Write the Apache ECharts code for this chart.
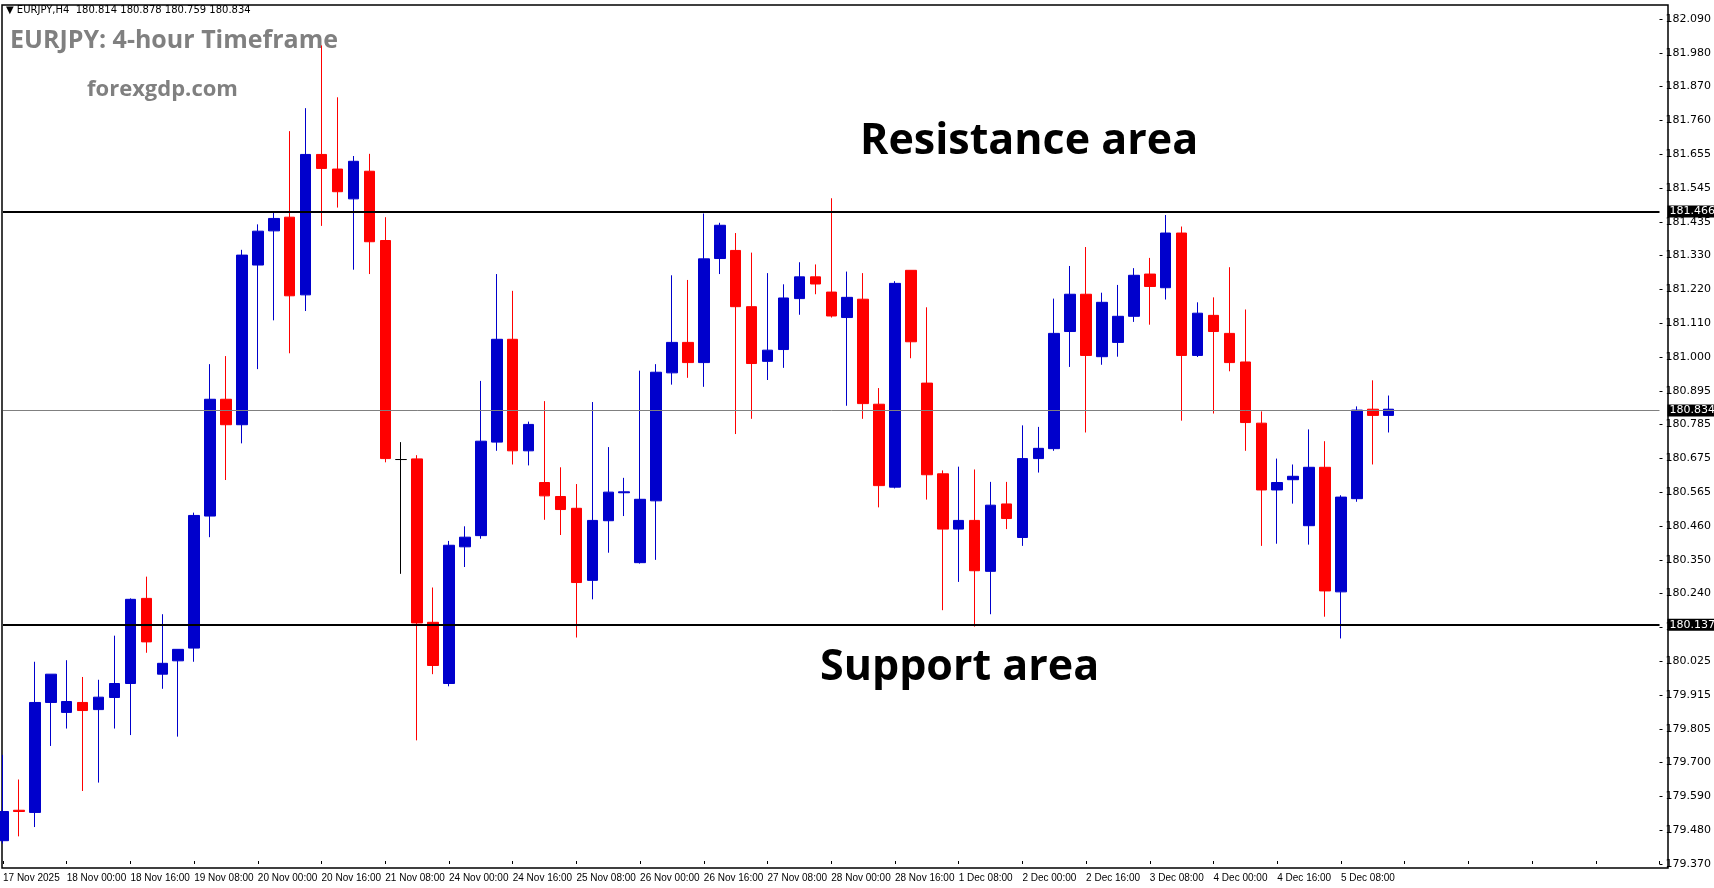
<!DOCTYPE html>
<html>
<head>
<meta charset="utf-8">
<script src="https://cdn.jsdelivr.net/npm/echarts@6/dist/echarts.min.js"></script>
<style>
  html, body { margin: 0; padding: 0; background: #fff; }
  #chart { width: 1714px; height: 888px; }
</style>
</head>
<body>
<div id="chart"></div>
<script>
// EURJPY H4 candles
const opens = [179.445,179.543,179.536,179.890,179.858,179.890,179.867,179.906,179.951,180.225,
  179.981,180.024,180.065,180.490,180.866,180.784,181.298,181.408,181.452,181.202,
  181.654,181.607,181.511,181.600,181.377,180.672,180.674,180.148,179.951,180.391,
  180.427,180.728,181.059,180.700,180.598,180.553,180.515,180.283,180.475,180.565,
  180.340,180.539,180.951,181.049,180.984,181.319,181.345,181.164,180.988,181.026,
  181.190,181.260,181.211,181.129,181.188,180.850,180.583,181.281,180.918,180.626,
  180.448,180.476,180.312,180.529,180.421,180.675,180.707,181.084,181.204,181.003,
  181.049,181.133,181.269,181.225,181.401,181.007,181.136,181.078,180.986,180.789,
  180.574,180.607,180.459,180.647,180.246,180.546,180.834,180.814]
const closes = [179.539,179.539,179.890,179.981,179.893,179.864,179.907,179.951,180.222,180.085,
  180.016,180.061,180.492,180.866,180.784,181.330,181.407,181.448,181.199,181.654,
  181.609,181.534,181.632,181.373,180.675,180.672,180.146,180.009,180.396,180.422,
  180.731,181.059,180.700,180.785,180.555,180.511,180.276,180.476,180.567,180.568,
  180.544,180.953,181.049,180.984,181.318,181.426,181.164,180.981,181.024,181.192,
  181.260,181.237,181.134,181.194,180.852,180.588,181.239,181.051,180.623,180.448,
  180.476,180.314,180.525,180.482,180.675,180.708,181.078,181.204,181.007,181.178,
  181.133,181.265,181.229,181.401,181.007,181.143,181.084,180.984,180.791,180.574,
  180.598,180.618,180.647,180.249,180.551,180.831,180.814,180.834]
const lows = [179.436,179.459,179.489,179.750,179.806,179.605,179.632,179.806,179.785,180.050,
  179.934,179.780,180.021,180.422,180.606,180.724,180.963,181.120,181.014,181.150,
  181.424,181.483,181.283,181.269,180.663,180.304,179.768,179.981,179.942,180.326,
  180.417,180.700,180.656,180.653,180.478,180.429,180.099,180.222,180.372,180.490,
  180.337,180.349,180.913,180.935,180.906,181.269,180.754,180.803,180.928,180.967,
  181.138,181.204,181.129,180.845,180.803,180.518,180.579,180.998,180.543,180.187,
  180.278,180.134,180.174,180.448,180.394,180.630,180.700,180.970,180.759,180.977,
  181.003,181.115,181.106,181.187,180.797,181.002,180.820,180.956,180.700,180.394,
  180.401,180.530,180.398,180.166,180.096,180.536,180.656,180.759]
const highs = [179.721,179.642,180.021,179.981,180.026,179.972,179.963,180.105,180.225,180.295,
  180.174,180.061,180.501,180.979,181.005,181.347,181.429,181.466,181.729,181.803,
  182.005,181.838,181.649,181.656,181.452,180.728,180.686,180.260,180.410,180.457,
  180.925,181.269,181.215,180.794,180.860,180.647,180.593,180.857,180.712,180.613,
  180.958,180.979,181.265,181.250,181.464,181.434,181.401,181.338,181.272,181.236,
  181.307,181.300,181.513,181.277,181.272,180.902,181.246,181.281,181.162,180.637,
  180.649,180.640,180.600,180.600,180.782,180.777,181.190,181.295,181.356,181.209,
  181.234,181.288,181.321,181.459,181.422,181.178,181.194,181.291,181.155,180.827,
  180.675,180.656,180.769,180.731,180.557,180.843,180.927,180.878]

// time labels shown every 4 bars
const timeLabels = ['17 Nov 2025','18 Nov 00:00','18 Nov 16:00','19 Nov 08:00','20 Nov 00:00',
  '20 Nov 16:00','21 Nov 08:00','24 Nov 00:00','24 Nov 16:00','25 Nov 08:00','26 Nov 00:00',
  '26 Nov 16:00','27 Nov 08:00','28 Nov 00:00','28 Nov 16:00','1 Dec 08:00','2 Dec 00:00',
  '2 Dec 16:00','3 Dec 08:00','4 Dec 00:00','4 Dec 16:00','5 Dec 08:00']

// price scale labels, top to bottom
const priceLabels = ['182.090','181.980','181.870','181.760','181.655','181.545','181.435',
  '181.330','181.220','181.110','181.000','180.895','180.785','180.675','180.565','180.460',
  '180.350','180.240','180.130','180.025','179.915','179.805','179.700','179.590','179.480','179.370']

const resistance = 181.466
const support = 180.137
const lastPrice = 180.834

const slotCount = 105
const yMin = 179.370
const yMax = 182.090
const yStep = (yMax - yMin) / (priceLabels.length - 1)

const categories = []
for (let i = 0; i < slotCount; i++) {
    categories.push(i % 4 === 0 && timeLabels[i / 4] ? timeLabels[i / 4] : '')
}
const candles = opens.map((o, i) => [o, closes[i], lows[i], highs[i]])

const chart = echarts.init(document.getElementById('chart'))

const sideLabel = (value) => ({
    show: true,
    position: 'end',
    distance: 8,
    formatter: value.toFixed(3),
    color: '#fff',
    backgroundColor: '#000',
    padding: [1, 2, 0, 2],
    fontSize: 11,
    fontFamily: 'DejaVu Sans',
})

chart.setOption({
    animation: false,
    backgroundColor: '#fff',
    grid: {left: 3, right: 46, top: 19, bottom: 24},
    xAxis: {
        type: 'category',
        data: categories,
        boundaryGap: false,
        axisLine: {show: false},
        axisTick: {show: true, interval: 3, length: -3, lineStyle: {color: '#000'}},
        splitLine: {show: false},
        axisLabel: {
            interval: 3,
            showMinLabel: true,
            hideOverlap: false,
            align: 'left',
            margin: 9,
            color: '#000',
            fontSize: 10,
            fontFamily: 'Liberation Sans',
        },
    },
    yAxis: {
        type: 'value',
        position: 'right',
        min: yMin,
        max: yMax,
        interval: yStep,
        splitLine: {show: false},
        axisLine: {show: false},
        axisTick: {show: true, length: 3, lineStyle: {color: '#000'}},
        axisLabel: {
            margin: 6,
            color: '#000',
            fontSize: 11,
            fontFamily: 'DejaVu Sans',
            formatter: (v) => priceLabels[priceLabels.length - 1 - Math.round((v - yMin) / yStep)] || '',
        },
    },
    graphic: [
        {type: 'rect', shape: {x: 2, y: 5, width: 1666, height: 863}, style: {fill: null, stroke: '#000', lineWidth: 1.5}, silent: true},
        {type: 'text', left: 6, top: 5, style: {text: '\u25BC EURJPY,H4  180.814 180.878 180.759 180.834', fontSize: 10, fontFamily: 'DejaVu Sans', fill: '#000'}},
        {type: 'text', left: 10, top: 28, style: {text: 'EURJPY: 4-hour Timeframe', fontSize: 25, fontWeight: 'bold', fontFamily: 'Open Sans', fill: '#808080'}},
        {type: 'text', left: 87, top: 79, style: {text: 'forexgdp.com', fontSize: 22, fontWeight: 'bold', fontFamily: 'Open Sans', fill: '#808080'}},
        {type: 'text', left: 860, top: 120, style: {text: 'Resistance area', fontSize: 43, fontWeight: 'bold', fontFamily: 'Open Sans', fill: '#000'}},
        {type: 'text', left: 820, top: 646, style: {text: 'Support area', fontSize: 43, fontWeight: 'bold', fontFamily: 'Open Sans', fill: '#000'}},
    ],
    series: [{
        type: 'candlestick',
        data: candles,
        barWidth: 11,
        itemStyle: {
            color: '#0000CC',
            color0: '#FF0000',
            borderColor: '#0000CC',
            borderColor0: '#FF0000',
            borderColorDoji: '#000',
            borderWidth: 1,
        },
        markLine: {
            symbol: 'none',
            silent: true,
            data: [
                {yAxis: resistance, lineStyle: {color: '#000', width: 2, type: 'solid'}, label: sideLabel(resistance)},
                {yAxis: support, lineStyle: {color: '#000', width: 2, type: 'solid'}, label: sideLabel(support)},
                {yAxis: lastPrice, lineStyle: {color: '#808080', width: 1, type: 'solid'}, label: sideLabel(lastPrice)},
            ],
        },
    }],
})
</script>
</body>
</html>
